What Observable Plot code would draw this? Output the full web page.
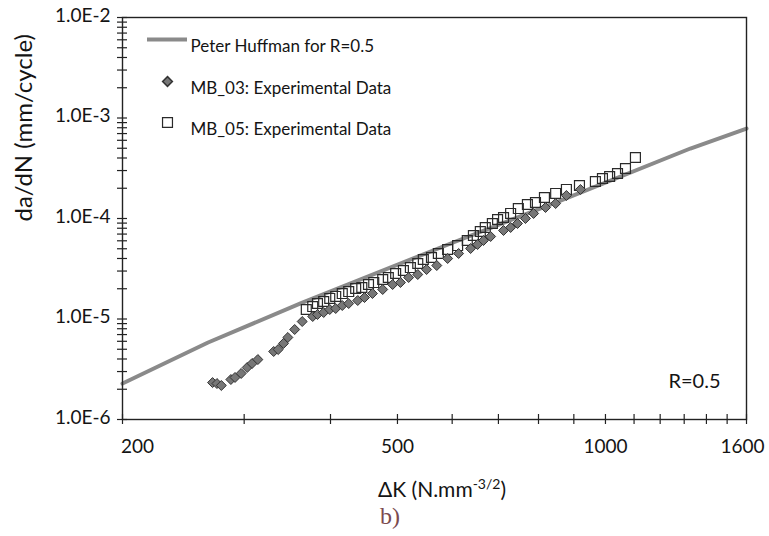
<!DOCTYPE html>
<html>
<head>
<meta charset="utf-8">
<script src="https://cdn.jsdelivr.net/npm/d3@7"></script>
<script src="https://cdn.jsdelivr.net/npm/@observablehq/plot@0.6"></script>
<style>
  html, body { margin: 0; padding: 0; background: #fff; }
</style>
</head>
<body>
<div id="chart"></div>
<script>
// Peter Huffman model, R = 0.5
const huffmanDK   = [200, 266, 362, 597, 861, 1327, 1600];
const huffmanRate = [2.28e-6, 5.84e-6, 1.43e-5, 5.64e-5, 1.51e-4, 4.97e-4, 7.86e-4];

// MB_03 experimental data (diamonds)
const mb03DK = [270, 274, 278, 287, 291, 297, 303, 308, 314, 331, 336, 342, 347, 355, 364,
  377, 383, 391, 399, 407, 416, 425, 438, 448, 460, 476, 492, 505, 519, 535, 551, 570, 591,
  613, 638, 653, 666, 682, 712, 729, 746, 766, 787, 819, 847, 878, 920];
const mb03Rate = [2.33e-6, 2.28e-6, 2.18e-6, 2.50e-6, 2.62e-6, 2.87e-6, 3.29e-6, 3.61e-6, 3.95e-6,
  4.75e-6, 4.97e-6, 5.71e-6, 6.55e-6, 7.86e-6, 9.44e-6,
  1.059e-5, 1.109e-5, 1.161e-5, 1.243e-5, 1.272e-5, 1.362e-5, 1.426e-5, 1.528e-5, 1.636e-5,
  1.793e-5, 1.966e-5, 2.204e-5, 2.307e-5, 2.588e-5, 2.772e-5, 3.108e-5, 3.406e-5, 4.000e-5,
  4.485e-5, 5.029e-5, 5.510e-5, 6.040e-5, 6.621e-5, 7.598e-5, 8.137e-5, 8.917e-5, 1.000e-4,
  1.122e-4, 1.287e-4, 1.410e-4, 1.694e-4, 1.944e-4];

// MB_05 experimental data (open squares)
const mb05DK = [369, 377, 383, 391, 399, 407, 416, 425, 435, 444, 454, 462, 476, 485, 497, 510,
  522, 535, 545, 560, 573, 591, 611, 631, 644, 659, 670, 686, 698, 712, 729, 748, 771, 792,
  816, 847, 878, 917, 967, 990, 1014, 1041, 1069, 1105];
const mb05Rate = [1.243e-5, 1.331e-5, 1.426e-5, 1.493e-5, 1.600e-5, 1.675e-5, 1.793e-5, 1.877e-5,
  2.011e-5, 2.058e-5, 2.204e-5, 2.307e-5, 2.472e-5, 2.588e-5, 2.836e-5, 3.038e-5, 3.253e-5,
  3.566e-5, 3.908e-5, 4.092e-5, 4.485e-5, 4.915e-5, 5.385e-5, 6.040e-5, 6.773e-5, 7.425e-5,
  8.137e-5, 8.917e-5, 9.772e-5, 1.023e-4, 1.122e-4, 1.257e-4, 1.378e-4, 1.443e-4, 1.618e-4,
  1.774e-4, 1.944e-4, 2.130e-4, 2.334e-4, 2.500e-4, 2.617e-4, 2.804e-4, 3.144e-4, 4.046e-4];

// Tick labels
const xTickFirst = [200];
const xTickMiddle = [500, 1000];
const xTickLast = [1600];
const xTickMarks = [200, 300, 400, 500, 600, 700, 800, 900, 1000, 1100, 1200, 1300, 1400, 1500, 1600];
const yTickLabels = [1e-6, 1e-5, 1e-4, 1e-3, 1e-2];
const yTickMarks = [1e-6, 1e-5, 1e-4, 1e-3].flatMap(d => [1,2,3,4,5,6,7,8,9].map(k => k * d)).concat([1e-2]);

const huffman = huffmanDK.map((x, i) => ({x, y: huffmanRate[i]}));
const mb03 = mb03DK.map((x, i) => ({x, y: mb03Rate[i]}));
const mb05 = mb05DK.map((x, i) => ({x, y: mb05Rate[i]}));

const W = 769, H = 536, mL = 122, mR = 23, mT = 17, mB = 117;
const innerW = W - mL - mR, innerH = H - mT - mB;
const font = "Lato, 'Open Sans', sans-serif";
const ink = "#141414";
const xFmt = d => String(d);
const xAxisOpts = {tickSize: 0, tickPadding: 20, tickFormat: xFmt, label: null, fontSize: 19};

const chart = Plot.plot({
  width: W, height: H,
  marginLeft: mL, marginRight: mR, marginTop: mT, marginBottom: mB,
  x: {type: "log", domain: [200, 1600]},
  y: {type: "log", domain: [1e-6, 1e-2]},
  style: {fontFamily: font, fontSize: "19px", color: ink, background: "#fff"},
  marks: [
    Plot.line(huffman, {x: "x", y: "y", stroke: "#8a8a8a", strokeWidth: 4}),
    Plot.dot(mb05, {x: "x", y: "y", symbol: "square", r: 5.6, fill: "none", stroke: "#2a2a2a", strokeWidth: 1.2}),
    Plot.dot(mb03, {x: "x", y: "y", symbol: "diamond2", r: 4.5, fill: "#777", stroke: "#333", strokeWidth: 1}),
    Plot.frame({stroke: "#222", strokeWidth: 1.4}),
    Plot.tickY(yTickMarks, {y: d => d, insetLeft: -5, insetRight: innerW - 5, stroke: "#222", strokeWidth: 1.2}),
    Plot.tickX(xTickMarks, {x: d => d, insetTop: innerH - 5, insetBottom: -5, stroke: "#222", strokeWidth: 1.2}),
    Plot.axisY(yTickLabels, {tickSize: 0, tickPadding: 12, dy: -2, tickFormat: d => "1.0E" + Math.round(Math.log10(d)), label: null, fontSize: 19}),
    Plot.axisX(xTickFirst, {...xAxisOpts, dx: 15}),
    Plot.axisX(xTickMiddle, {...xAxisOpts}),
    Plot.axisX(xTickLast, {...xAxisOpts, dx: -4}),
    Plot.text(["da/dN (mm/cycle)"], {frameAnchor: "left", rotate: -90, dx: -98, dy: 3, fontSize: 24, fill: ink}),
    Plot.text(["R=0.5"], {frameAnchor: "bottom-right", dx: -26, dy: -32, textAnchor: "end", fontSize: 20, fill: ink}),
    Plot.text(["Peter Huffman for R=0.5"], {frameAnchor: "top-left", dx: 68, dy: 22.5, textAnchor: "start", fontSize: 17, fill: ink}),
    Plot.text(["MB_03: Experimental Data"], {frameAnchor: "top-left", dx: 68, dy: 64, textAnchor: "start", fontSize: 17, fill: ink}),
    Plot.text(["MB_05: Experimental Data"], {frameAnchor: "top-left", dx: 68, dy: 105, textAnchor: "start", fontSize: 17, fill: ink}),
    Plot.dot([0], {frameAnchor: "top-left", dx: 45, dy: 64, symbol: "diamond2", r: 4.4, fill: "#777", stroke: "#333"}),
    Plot.dot([0], {frameAnchor: "top-left", dx: 45, dy: 105, symbol: "square", r: 5.6, fill: "none", stroke: "#2a2a2a", strokeWidth: 1.2})
  ]
});

document.getElementById("chart").appendChild(chart);

// Legend line sample, x-axis label with superscript, caption
const svg = d3.select(chart);
svg.append("line")
  .attr("x1", 147).attr("x2", 187).attr("y1", 39.5).attr("y2", 39.5)
  .attr("stroke", "#8a8a8a").attr("stroke-width", 4);

const xl = svg.append("text")
  .attr("x", 378).attr("y", 497)
  .attr("text-anchor", "start")
  .attr("font-family", font).attr("font-size", 21).attr("fill", ink);
xl.append("tspan").text("\u0394K (N.mm");
xl.append("tspan").attr("dy", -8).attr("font-size", 14).text("-3/2");
xl.append("tspan").attr("dy", 8).text(")");

svg.append("text")
  .attr("x", 380).attr("y", 524)
  .attr("text-anchor", "start")
  .attr("font-family", "'Liberation Serif', 'DejaVu Serif', serif")
  .attr("font-size", 24).attr("fill", "#7b4a4e")
  .text("b)");
</script>
</body>
</html>
